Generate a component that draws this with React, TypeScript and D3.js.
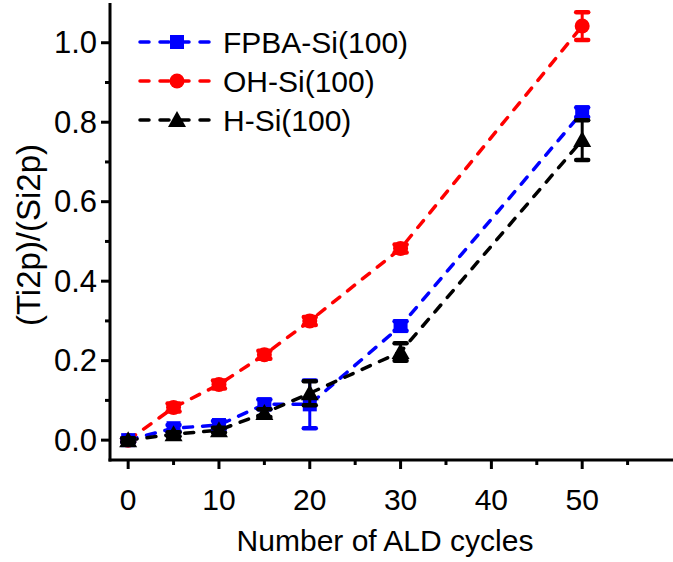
import React from "react";
import * as d3 from "d3";

const cycles = [0, 5, 10, 15, 20, 30, 50];
const fpba = [0.0, 0.03, 0.038, 0.09, 0.09, 0.287, 0.825];
const fpbaErr = [0.005, 0.008, 0.01, 0.012, 0.06, 0.012, 0.012];
const oh = [0.0, 0.082, 0.14, 0.215, 0.3, 0.482, 1.042];
const ohErr = [0.005, 0.01, 0.01, 0.01, 0.01, 0.01, 0.035];
const hsi = [0.0, 0.015, 0.025, 0.068, 0.118, 0.222, 0.755];
const hsiErr = [0.005, 0.005, 0.006, 0.01, 0.03, 0.022, 0.05];
const seriesNames = ["FPBA-Si(100)", "OH-Si(100)", "H-Si(100)"];
const seriesColors = ["#0000ff", "#ff0000", "#000000"];
const seriesMarkers = ["square", "circle", "triangle"];
const xTicks = [0, 10, 20, 30, 40, 50];
const yTicks = [0.0, 0.2, 0.4, 0.6, 0.8, 1.0];
const xMinor = [5, 15, 25, 35, 45, 55];
const yMinor = [0.1, 0.3, 0.5, 0.7, 0.9];

const W = 673, H = 562;
const left = 110, right = 673, top = 3, bottom = 460;
const x = d3.scaleLinear().domain([-2, 60]).range([left, right]);
const y = d3.scaleLinear().domain([-0.05, 1.1]).range([bottom, top]);

function Marker({ kind, cx, cy, color }: { kind: string; cx: number; cy: number; color: string }) {
  if (kind === "square") return <rect x={cx - 7} y={cy - 7} width={14} height={14} fill={color} />;
  if (kind === "circle") return <circle cx={cx} cy={cy} r={7.5} fill={color} />;
  return <path d={`M${cx},${cy - 9}L${cx + 9},${cy + 7}L${cx - 9},${cy + 7}Z`} fill={color} />;
}

export default function App() {
  const all = [fpba, oh, hsi];
  const errs = [fpbaErr, ohErr, hsiErr];
  const line = d3
    .line<[number, number]>()
    .x((d) => x(d[0]))
    .y((d) => y(d[1]))
    .curve(d3.curveLinear);
  const font = "'Liberation Sans', Arial, sans-serif";
  return (
    <svg width={W} height={H} style={{ position: "absolute", left: 0, top: 0, background: "#fff" }} fontFamily={font}>
      <rect width={W} height={H} fill="#fff" />
      {all.map((vals, si) => (
        <path
          key={si}
          d={line(cycles.map((c, i) => [c, vals[i]] as [number, number])) || ""}
          fill="none"
          stroke={seriesColors[si]}
          strokeWidth={3.5}
          strokeDasharray="9,10"
          strokeLinecap="round"
        />
      ))}
      {[1, 0, 2].map((si) => (
        <g key={"m" + si}>
          {cycles.map((c, i) => {
            const v = all[si][i];
            const e = errs[si][i];
            const cx = x(c);
            return (
              <g key={i}>
                <line x1={cx} x2={cx} y1={y(v - e)} y2={y(v + e)} stroke={seriesColors[si]} strokeWidth={3} />
                <line x1={cx - 6} x2={cx + 6} y1={y(v - e)} y2={y(v - e)} stroke={seriesColors[si]} strokeWidth={4.5} strokeLinecap="round" />
                <line x1={cx - 6} x2={cx + 6} y1={y(v + e)} y2={y(v + e)} stroke={seriesColors[si]} strokeWidth={4.5} strokeLinecap="round" />
                <Marker kind={seriesMarkers[si]} cx={cx} cy={y(v)} color={seriesColors[si]} />
              </g>
            );
          })}
        </g>
      ))}
      <line x1={left} x2={left} y1={top} y2={bottom + 1.5} stroke="#000" strokeWidth={3} />
      <line x1={left - 1.5} x2={right} y1={bottom} y2={bottom} stroke="#000" strokeWidth={3} />
      {xTicks.map((t) => (
        <g key={"xt" + t}>
          <line x1={x(t)} x2={x(t)} y1={bottom} y2={bottom + 9} stroke="#000" strokeWidth={3} />
          <text x={x(t)} y={510} fontSize={30} textAnchor="middle">{t}</text>
        </g>
      ))}
      {xMinor.map((t) => (
        <line key={"xm" + t} x1={x(t)} x2={x(t)} y1={bottom} y2={bottom + 5} stroke="#000" strokeWidth={3} />
      ))}
      {yTicks.map((t) => (
        <g key={"yt" + t}>
          <line x1={left - 9} x2={left} y1={y(t)} y2={y(t)} stroke="#000" strokeWidth={3} />
          <text x={97} y={y(t) + 10.5} fontSize={31} textAnchor="end">{t.toFixed(1)}</text>
        </g>
      ))}
      {yMinor.map((t) => (
        <line key={"ym" + t} x1={left - 5} x2={left} y1={y(t)} y2={y(t)} stroke="#000" strokeWidth={3} />
      ))}
      <text x={385} y={551} fontSize={30} textAnchor="middle">Number of ALD cycles</text>
      <text transform={`translate(40,235) rotate(-90)`} fontSize={33} textAnchor="middle">(Ti2p)/(Si2p)</text>
      {seriesNames.map((n, i) => {
        const ly = 42 + i * 39;
        return (
          <g key={n}>
            <line x1={140} x2={212} y1={ly} y2={ly} stroke={seriesColors[i]} strokeWidth={3.5} strokeDasharray="9,11" strokeLinecap="round" />
            <Marker kind={seriesMarkers[i]} cx={177} cy={ly} color={seriesColors[i]} />
            <text x={223} y={ly + 11} fontSize={30}>{n}</text>
          </g>
        );
      })}
    </svg>
  );
}
